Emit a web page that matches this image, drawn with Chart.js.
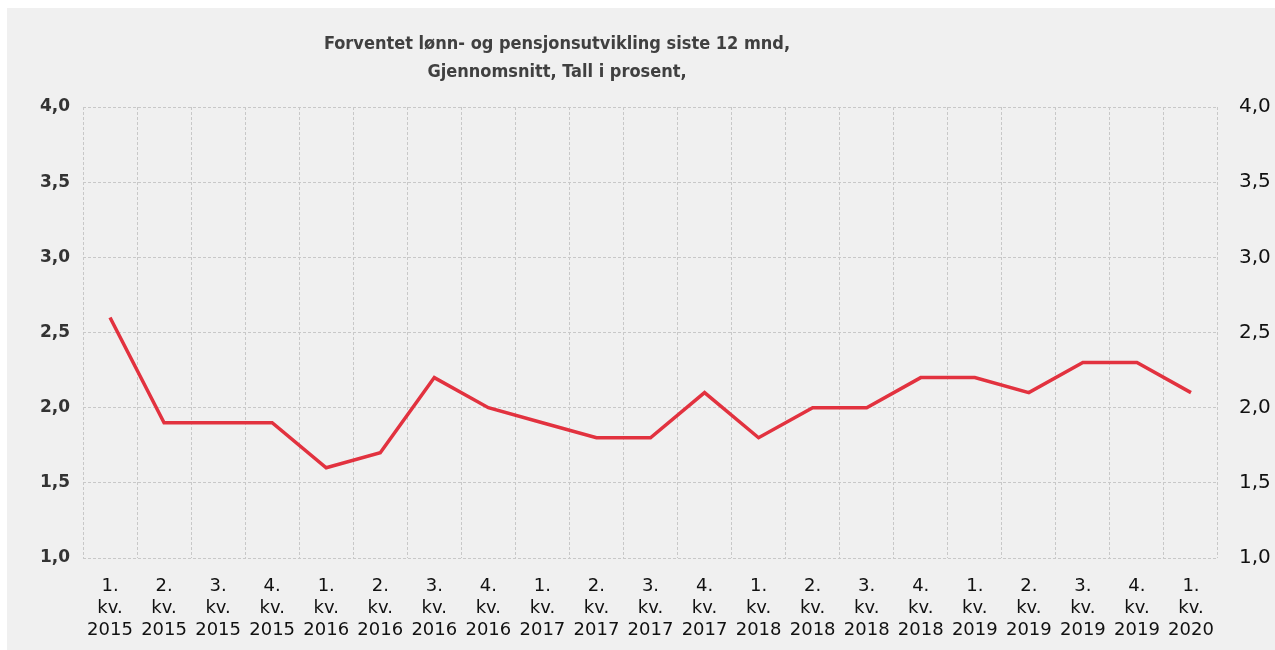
<!DOCTYPE html>
<html>
<head>
<meta charset="utf-8">
<script src="https://cdn.jsdelivr.net/npm/chart.js@4/dist/chart.umd.min.js"></script>
<style>
  html, body { margin: 0; padding: 0; background: #fff; }
  #wrap { position: relative; width: 1275px; height: 650px; overflow: hidden; }
  #bg { position: absolute; left: 7px; top: 8px; right: 0; bottom: 0; background: #f0f0f0; }
  #title {
    position: absolute; left: 257px; width: 600px; top: 29px;
    text-align: center; font: bold 18px "DejaVu Sans Condensed", "Liberation Sans", sans-serif;
    color: #404040; line-height: 28px;
  }
  canvas { position: absolute; left: 0; top: 0; }
</style>
</head>
<body>
<div id="wrap">
  <div id="bg"></div>
  <canvas id="chart" width="1275" height="650"></canvas>
  <div id="title">Forventet lønn- og pensjonsutvikling siste 12 mnd,<br>Gjennomsnitt, Tall i prosent,</div>
</div>
<script>
// — data —
const quarters = ["1.", "2.", "3.", "4.", "1.", "2.", "3.", "4.", "1.", "2.", "3.", "4.", "1.", "2.", "3.", "4.", "1.", "2.", "3.", "4.", "1."];
const years = ["2015", "2015", "2015", "2015", "2016", "2016", "2016", "2016", "2017", "2017", "2017", "2017", "2018", "2018", "2018", "2018", "2019", "2019", "2019", "2019", "2020"];
const values = [2.6, 1.9, 1.9, 1.9, 1.6, 1.7, 2.2, 2.0, 1.9, 1.8, 1.8, 2.1, 1.8, 2.0, 2.0, 2.2, 2.2, 2.1, 2.3, 2.3, 2.1];
const yTicks = [1.0, 1.5, 2.0, 2.5, 3.0, 3.5, 4.0];

const labels = quarters.map((q, i) => [q, "kv.", years[i]]);
const fmt = v => Number(v).toFixed(1).replace(".", ",");
const gridCol = "#c8c8c8";

new Chart(document.getElementById("chart"), {
  type: "line",
  data: {
    labels,
    datasets: [{
      data: values,
      borderColor: "#e2323f",
      borderWidth: 3.5,
      pointRadius: 0,
      tension: 0,
      fill: false,
      yAxisID: "y"
    }]
  },
  options: {
    responsive: false,
    animation: false,
    layout: { padding: { top: 107, left: 0, right: 0, bottom: 0 } },
    plugins: { legend: { display: false }, tooltip: { enabled: false }, title: { display: false } },
    scales: {
      x: {
        offset: true,
        grid: { offset: true, color: gridCol, drawTicks: false },
        border: { display: false, dash: [3, 2] },
        ticks: {
          autoSkip: false, maxRotation: 0, minRotation: 0, padding: 18,
          color: "#111", font: { family: "DejaVu Sans", size: 18, lineHeight: 1.2 }
        },
        afterFit: s => { s.height = 92; }
      },
      y: {
        position: "left",
        min: yTicks[0], max: yTicks[yTicks.length - 1],
        afterBuildTicks: s => { s.ticks = yTicks.map(v => ({ value: v })); },
        grid: { color: gridCol, drawTicks: false },
        border: { display: false, dash: [3, 2] },
        ticks: {
          padding: 13, color: "#333", callback: fmt,
          font: { family: "DejaVu Sans", size: 17, weight: "bold" }
        },
        afterFit: s => { s.width = 83; }
      },
      y1: {
        position: "right",
        min: yTicks[0], max: yTicks[yTicks.length - 1],
        afterBuildTicks: s => { s.ticks = yTicks.map(v => ({ value: v })); },
        grid: { display: false, drawTicks: false },
        border: { display: false },
        ticks: {
          padding: 21, color: "#111", callback: fmt,
          font: { family: "DejaVu Sans", size: 20 }
        },
        afterFit: s => { s.width = 57; }
      }
    }
  }
});
</script>
</body>
</html>
